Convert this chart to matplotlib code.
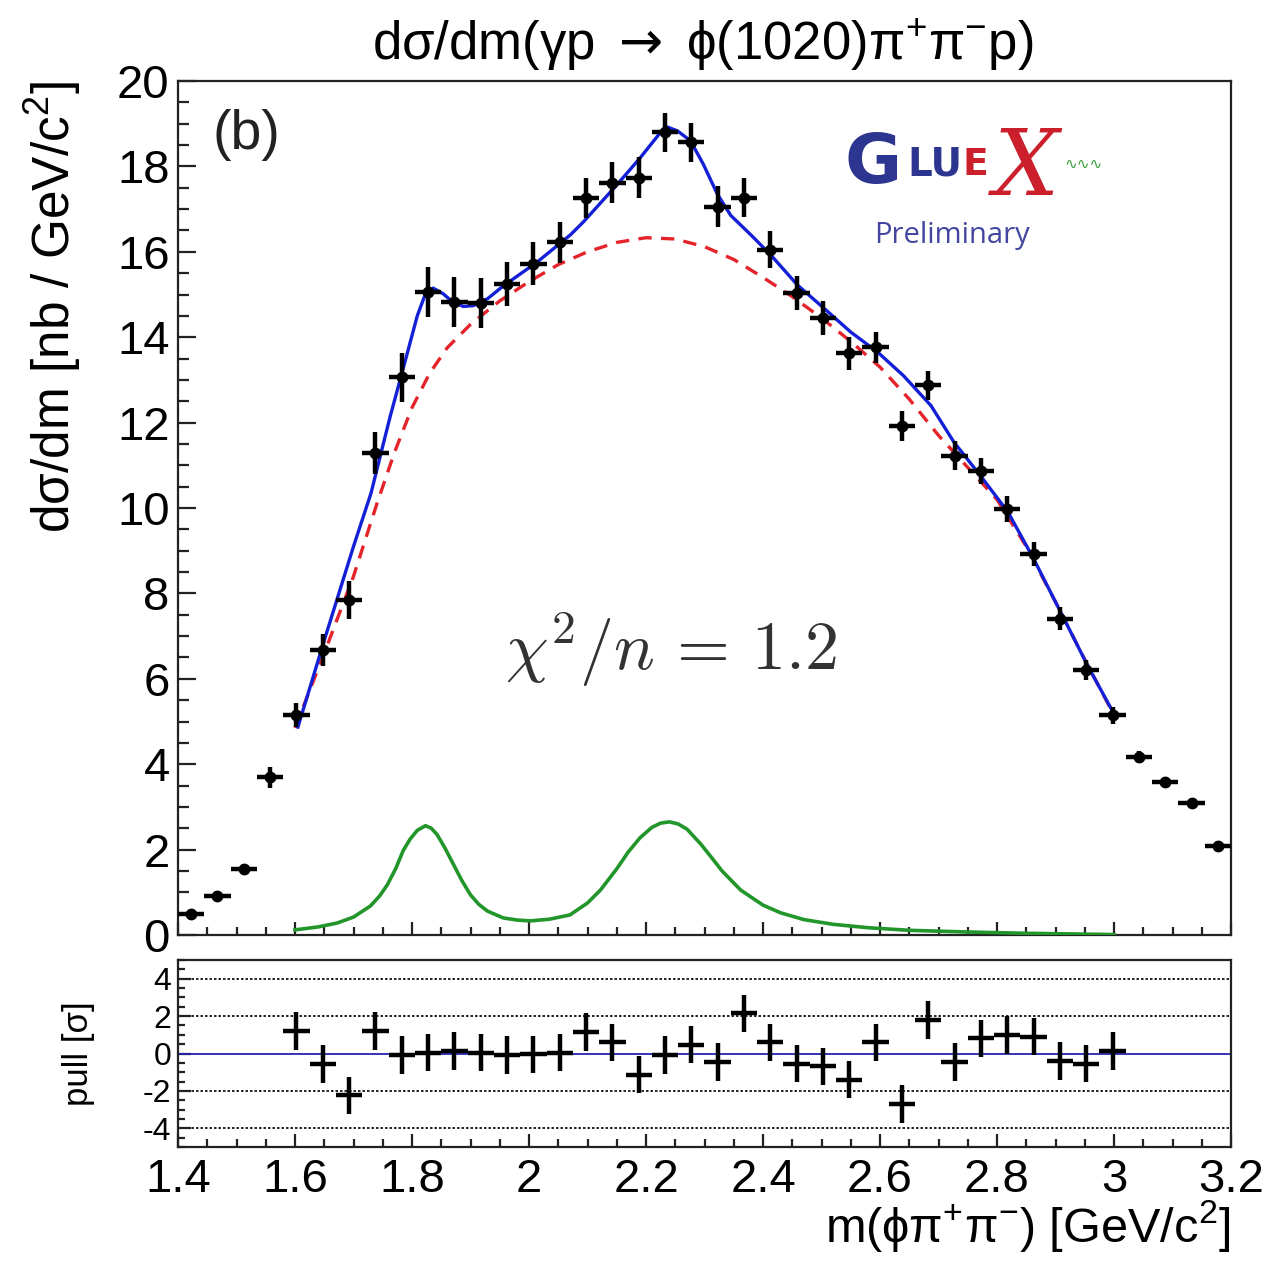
import numpy as np
import matplotlib
matplotlib.use("Agg")
import matplotlib.pyplot as plt
from matplotlib.ticker import MultipleLocator, FuncFormatter

# ---- measured cross section, d sigma / dm  [nb / GeV/c^2] ----
mass = [1.4225, 1.4675, 1.5125, 1.5575, 1.6025, 1.6475, 1.6925, 1.7375,
        1.7825, 1.8275, 1.8725, 1.9175, 1.9625, 2.0075, 2.0525, 2.0975,
        2.1425, 2.1875, 2.2325, 2.2775, 2.3225, 2.3675, 2.4125, 2.4575,
        2.5025, 2.5475, 2.5925, 2.6375, 2.6825, 2.7275, 2.7725, 2.8175,
        2.8625, 2.9075, 2.9525, 2.9975, 3.0425, 3.0875, 3.1325, 3.1775]
xsec = [0.50, 0.92, 1.55, 3.69, 5.15, 6.68, 7.84, 11.29,
        13.06, 15.06, 14.82, 14.80, 15.25, 15.72, 16.22, 17.27,
        17.62, 17.74, 18.80, 18.56, 17.06, 17.27, 16.05, 15.04,
        14.45, 13.62, 13.76, 11.93, 12.87, 11.22, 10.87, 9.98,
        8.92, 7.41, 6.21, 5.15, 4.16, 3.58, 3.08, 2.09]
xsec_err = [0.08, 0.10, 0.12, 0.25, 0.28, 0.38, 0.45, 0.50,
            0.57, 0.59, 0.59, 0.58, 0.52, 0.50, 0.48, 0.47,
            0.48, 0.48, 0.46, 0.45, 0.48, 0.45, 0.44, 0.40,
            0.40, 0.38, 0.36, 0.35, 0.35, 0.34, 0.30, 0.30,
            0.28, 0.27, 0.24, 0.20, 0.14, 0.12, 0.10, 0.10]
bin_half_width = 0.0225

# ---- fit pulls, for the bins inside the fit range (1.6 - 3.0) ----
pull_mass = mass[4:36]
pull = [1.20, -0.57, -2.24, 1.20, -0.09, 0.04, 0.14, 0.04,
        -0.09, -0.05, 0.04, 1.16, 0.59, -1.13, -0.09, 0.48,
        -0.45, 2.15, 0.59, -0.54, -0.68, -1.40, 0.59, -2.69,
        1.79, -0.45, 0.81, 0.99, 0.90, -0.41, -0.54, 0.13]

# ---- fit curves ----
total_m = [1.605, 1.65, 1.70, 1.73, 1.75, 1.763, 1.785, 1.809, 1.822,
           1.836, 1.853, 1.870, 1.888, 1.905, 1.929, 1.956, 2.014, 2.071,
           2.093, 2.151, 2.19, 2.225, 2.237, 2.254, 2.276, 2.298, 2.322,
           2.345, 2.379, 2.413, 2.459, 2.504, 2.55, 2.596, 2.64, 2.687,
           2.726, 2.772, 2.819, 2.863, 2.91, 2.956, 3.0]
total_fit = [4.87, 6.90, 9.10, 10.35, 11.45, 12.16, 13.27, 14.50, 14.98,
             15.15, 15.02, 14.82, 14.72, 14.74, 14.90, 15.20, 15.76, 16.40,
             16.70, 17.58, 18.20, 18.80, 18.92, 18.83, 18.60, 18.05, 17.35,
             16.85, 16.40, 15.93, 15.22, 14.68, 14.12, 13.65, 13.10, 12.40,
             11.55, 10.75, 9.90, 8.80, 7.53, 6.28, 5.18]

bkg_m = [1.60, 1.65, 1.70, 1.74, 1.77, 1.80, 1.83, 1.86, 1.90, 1.95,
         2.00, 2.05, 2.10, 2.15, 2.20, 2.25, 2.30, 2.35, 2.40, 2.45,
         2.50, 2.55, 2.60, 2.65, 2.70, 2.75, 2.80, 2.85, 2.90, 2.95, 3.00]
bkg_fit = [4.85, 6.60, 8.40, 10.10, 11.30, 12.35, 13.15, 13.75, 14.30, 14.85,
           15.30, 15.70, 16.00, 16.22, 16.33, 16.30, 16.12, 15.82, 15.40, 14.95,
           14.45, 13.90, 13.30, 12.55, 11.70, 10.95, 10.20, 9.10, 7.80, 6.45, 5.15]

sig_m = [1.60, 1.64, 1.672, 1.70, 1.729, 1.745, 1.758, 1.772, 1.785, 1.797,
         1.809, 1.823, 1.833, 1.843, 1.857, 1.871, 1.885, 1.90, 1.914, 1.929,
         1.956, 1.98, 2.002, 2.035, 2.07, 2.10, 2.122, 2.15, 2.17, 2.19,
         2.21, 2.225, 2.24, 2.255, 2.27, 2.293, 2.31, 2.33, 2.362, 2.40,
         2.43, 2.47, 2.52, 2.58, 2.65, 2.75, 2.85, 2.95, 3.0]
sig_fit = [0.12, 0.19, 0.28, 0.42, 0.68, 0.92, 1.18, 1.55, 1.98, 2.25,
           2.45, 2.56, 2.50, 2.35, 2.02, 1.65, 1.28, 0.94, 0.72, 0.56,
           0.40, 0.35, 0.33, 0.37, 0.47, 0.75, 1.05, 1.55, 1.95, 2.28,
           2.52, 2.62, 2.65, 2.60, 2.48, 2.14, 1.85, 1.50, 1.05, 0.70,
           0.52, 0.36, 0.25, 0.17, 0.11, 0.07, 0.04, 0.02, 0.01]

plt.rcParams["font.family"] = ["Liberation Sans", "DejaVu Sans"]
plt.rcParams["mathtext.fontset"] = "custom"
plt.rcParams["mathtext.rm"] = "Liberation Sans"
plt.rcParams["mathtext.it"] = "Liberation Sans:italic"
plt.rcParams["mathtext.bf"] = "Liberation Sans:bold"
plt.rcParams["mathtext.sf"] = "DejaVu Sans"

W, H = 1275, 1268
fig = plt.figure(figsize=(W / 100, H / 100), dpi=100)

left, right = 178 / W, 1231 / W
ax = fig.add_axes([left, 1 - 935 / H, right - left, (935 - 81) / H])
axp = fig.add_axes([left, 1 - 1147 / H, right - left, (1147 - 960) / H], sharex=ax)

for a in (ax, axp):
    for s in a.spines.values():
        s.set_linewidth(1.6)
        s.set_color("#222222")

# ---- main panel ----
ax.plot(bkg_m, bkg_fit, color="#e5232b", lw=2.4, ls=(0, (4, 2.8)), zorder=3)
ax.plot(total_m, total_fit, color="#1320d8", lw=2.4, zorder=4,
        solid_joinstyle="round")
ax.plot(sig_m, sig_fit, color="#22962a", lw=2.6, zorder=3,
        solid_joinstyle="round")
ax.errorbar(mass, xsec, yerr=xsec_err, xerr=bin_half_width, fmt="o",
            ms=7.5, color="black", elinewidth=3.2, capsize=0, zorder=5)

ax.set_xlim(1.4, 3.2)
ax.set_ylim(0, 20)
ax.xaxis.set_major_locator(MultipleLocator(0.2))
ax.xaxis.set_minor_locator(MultipleLocator(0.05))
ax.yaxis.set_major_locator(MultipleLocator(2))
ax.yaxis.set_minor_locator(MultipleLocator(0.5))
ax.tick_params(axis="both", which="both", direction="in", top=False,
               right=False, width=1.6, color="#222222")
ax.tick_params(axis="y", which="major", length=13, labelsize=34, pad=6)
ax.tick_params(axis="y", which="minor", length=8)
ax.tick_params(axis="x", which="major", length=9.5, labelbottom=False)
ax.tick_params(axis="x", which="minor", length=5.5)
ax.set_ylabel("dσ/dm [nb / GeV/c$^{2}$]", fontsize=37, loc="top")
ax.yaxis.set_label_coords(-0.09, 1.0)

ax.text(0.033, 0.967, "(b)", transform=ax.transAxes, fontsize=40,
        ha="left", va="top", color="#222222")
ax.text(0.468, 0.335, r"$\chi^2/n\, =\, 1.2$", transform=ax.transAxes,
        fontsize=49, math_fontfamily="cm", color="#333333",
        ha="center", va="center")

# experiment logo
blue_logo = "#2c3590"
red_logo = "#cc1f2c"
fig.text(845 / W, 1 - 163 / H, "G", fontsize=50, fontweight="bold",
         color=blue_logo, family="DejaVu Sans", ha="left", va="center")
fig.text(907 / W, 1 - 165 / H, "LU", fontsize=28, fontweight="bold",
         color=blue_logo, family="DejaVu Sans", ha="left", va="center")
fig.text(962 / W, 1 - 165 / H, "E", fontsize=27, fontweight="bold",
         color=red_logo, family="DejaVu Sans", ha="left", va="center")
fig.text(1027 / W, 1 - 170 / H, "X", fontsize=66, style="italic",
         color=red_logo, family="DejaVu Serif", ha="center", va="center")
fig.text(1064 / W, 1 - 164 / H, "∿∿∿", fontsize=11, color="#3ca03c",
         family="DejaVu Sans", ha="left", va="center")
fig.text(952 / W, 1 - 236 / H, "Preliminary", fontsize=21,
         color="#4347a0", family="Open Sans", ha="center", va="center")

# ---- pull panel ----
for lvl in (4, 2, -2, -4):
    axp.axhline(lvl, color="black", lw=1.2, ls=(0, (1.5, 1.2)), zorder=1)
axp.axhline(0, color="#2424b0", lw=1.3, zorder=2)
axp.errorbar(pull_mass, pull, yerr=1.0, xerr=bin_half_width, fmt="none",
             ecolor="black", elinewidth=3.2, capsize=0, zorder=3)
axp.set_ylim(-5, 5)
axp.yaxis.set_major_locator(MultipleLocator(2))
axp.yaxis.set_minor_locator(MultipleLocator(0.5))
axp.tick_params(axis="both", which="both", direction="in", top=False,
                right=False, width=1.6, color="#222222")
axp.tick_params(axis="y", which="major", length=9, labelsize=23, pad=5)
axp.tick_params(axis="y", which="minor", length=5)
axp.tick_params(axis="x", which="major", length=9.5, labelsize=34, pad=8)
axp.tick_params(axis="x", which="minor", length=5.5)
axp.xaxis.set_major_formatter(FuncFormatter(lambda v, p: f"{v:g}"))
axp.yaxis.set_major_formatter(FuncFormatter(lambda v, p: f"{v:g}"))
axp.set_ylabel("pull [σ]", fontsize=25)
axp.yaxis.set_label_coords(-0.079, 0.5)

fig.text(1230 / W, 1 - 1226 / H, "m(ϕπ$^{+}$π$^{-}$) [GeV/c$^{2}$]",
         fontsize=35, ha="right", va="center")
fig.text(703 / W, 1 - 45 / H,
         r"dσ/dm(γp $\mathsf{\rightarrow}$ ϕ(1020)π$^{+}$π$^{-}$p)",
         fontsize=38, ha="center", va="center")

fig.savefig("out.png", dpi=100, facecolor="white")
